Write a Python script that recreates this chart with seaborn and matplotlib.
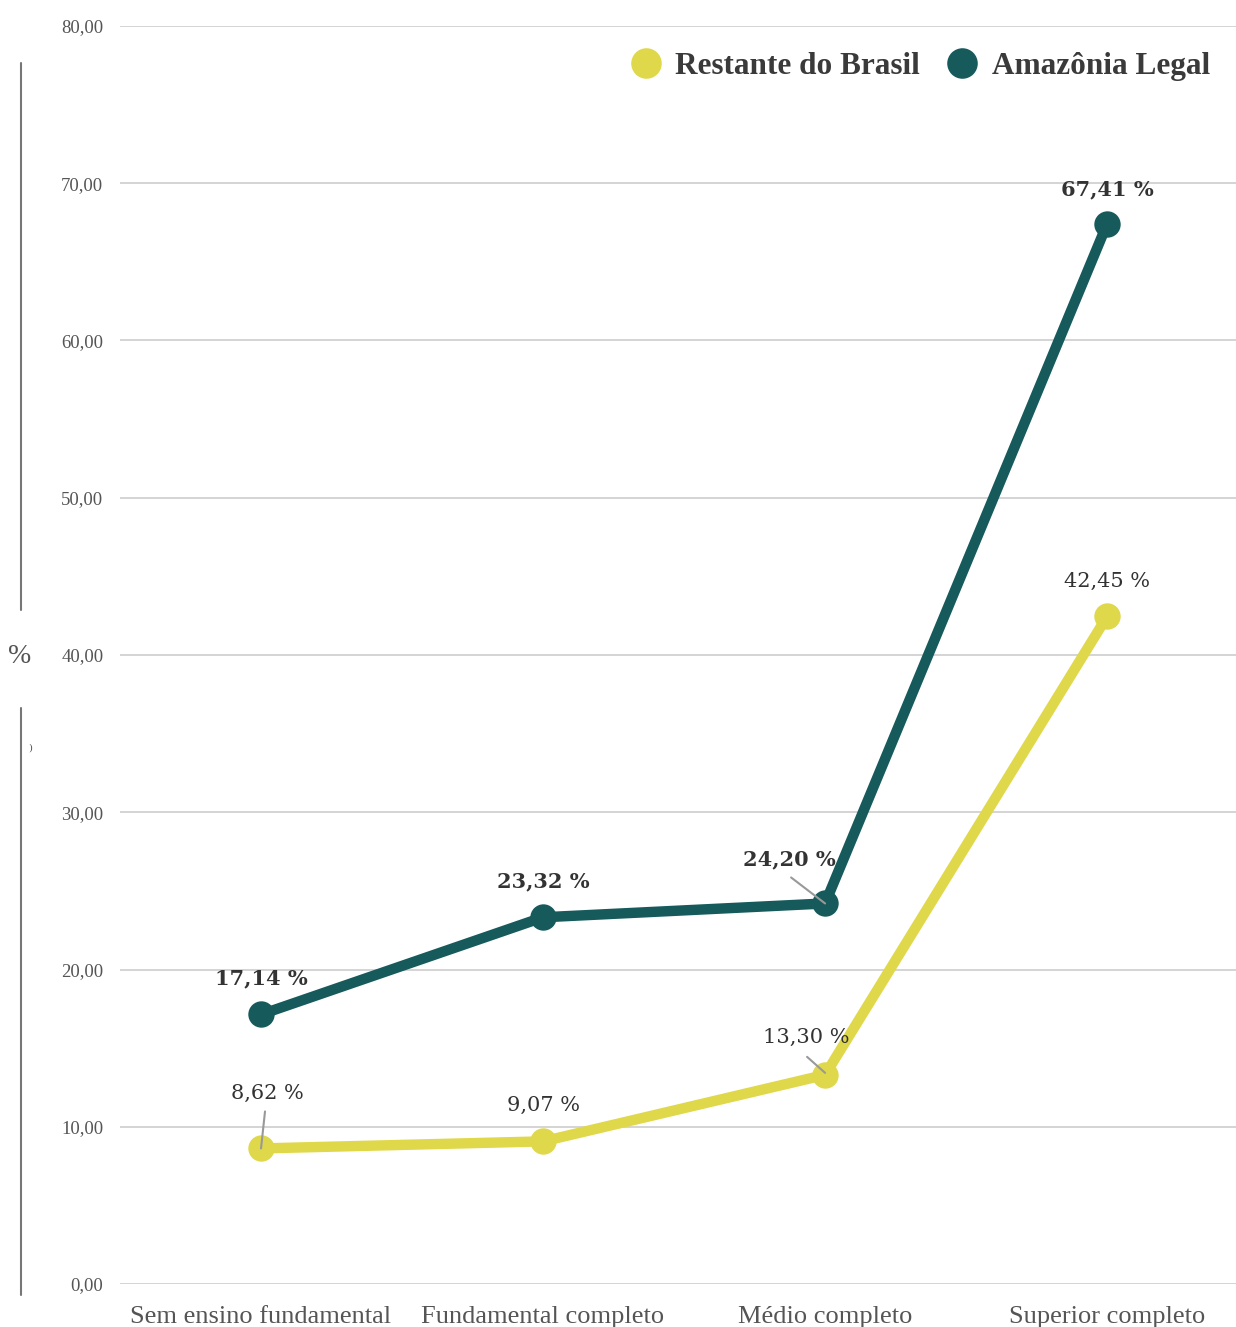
import matplotlib
matplotlib.use("Agg")
import matplotlib.pyplot as plt
import seaborn as sns
import pandas as pd
from matplotlib.lines import Line2D

categories = ["Sem ensino fundamental", "Fundamental completo", "Médio completo", "Superior completo"]
restante = [8.62, 9.07, 13.30, 42.45]
amazonia = [17.14, 23.32, 24.20, 67.41]
series_names = ["Restante do Brasil", "Amazônia Legal"]
yticks = [0, 10, 20, 30, 40, 50, 60, 70, 80]

colors = {"Restante do Brasil": "#e0d84b", "Amazônia Legal": "#165a5c"}

df = pd.DataFrame({
    "cat": list(range(len(categories))) * 2,
    "val": restante + amazonia,
    "serie": [series_names[0]] * 4 + [series_names[1]] * 4,
})

sns.set_style("white")
plt.rcParams["font.family"] = ["DejaVu Serif", "DejaVu Sans"]

W, H = 1236, 1327
fig = plt.figure(figsize=(W / 100, H / 100), dpi=100)
ax = fig.add_axes([120 / W, (H - 1284) / H, (W - 120) / W, 1258 / H])

sns.lineplot(data=df, x="cat", y="val", hue="serie", palette=colors,
             hue_order=series_names, marker="o", markersize=19,
             markeredgewidth=0, linewidth=7.5, legend=False, ax=ax, zorder=3)

ax.set_xlim(-0.5, 3.457)
ax.set_ylim(0, 80)
ax.set_yticks(yticks)
ax.set_yticklabels([f"{v:.2f}".replace(".", ",") for v in yticks],
                   fontsize=13.5, color="#555555", family="Liberation Serif")
ax.set_xticks(range(len(categories)))
ax.set_xticklabels(categories, fontsize=19, color="#555555", family="Liberation Serif")
ax.tick_params(axis="y", length=0, pad=12)
ax.tick_params(axis="x", length=0, pad=16)
ax.grid(axis="y", color="#d4d4d4", linewidth=1.4, zorder=0)
ax.grid(axis="x", visible=False)
for s in ax.spines.values():
    s.set_visible(False)
ax.set_xlabel("")
ax.set_ylabel("")

def lab(x, y, text, dx_px, dy_px, bold):
    ax.annotate(text, xy=(x, y), xytext=(dx_px * 0.72, dy_px * 0.72), textcoords="offset points",
                ha="center", va="center", fontsize=15,
                fontweight="bold" if bold else "normal", color="#333333", zorder=5)

a_off = [(0, 36), (0, 36), (-36, 44), (0, 35)]
r_off = [(6, 55), (0, 36), (-19, 37), (0, 35)]
for i, v in enumerate(amazonia):
    dx, dy = a_off[i]
    lab(i, v, f"{v:.2f} %".replace(".", ","), dx, dy, True)
for i, v in enumerate(restante):
    dx, dy = r_off[i]
    lab(i, v, f"{v:.2f} %".replace(".", ","), dx, dy, False)

def leader(x, y, p1, p2):
    x0, y0 = ax.transData.transform((x, y))
    inv = fig.transFigure.inverted()
    a = inv.transform((x0 + p1[0], y0 + p1[1]))
    b = inv.transform((x0 + p2[0], y0 + p2[1]))
    fig.add_artist(Line2D([a[0], b[0]], [a[1], b[1]], color="#999999", lw=1.5, zorder=6))

fig.canvas.draw()
leader(2, amazonia[2], (-34, 26), (0, 0))
leader(2, restante[2], (-18, 18), (0, 2))
leader(0, restante[0], (4, 37), (0, 0))

handles = [Line2D([], [], linestyle="none", marker="o", markersize=22,
                  markerfacecolor=colors[n], markeredgewidth=0) for n in series_names]
leg = ax.legend(handles, series_names, loc="upper right", bbox_to_anchor=(1.002, 1.002),
                ncol=2, frameon=False, handletextpad=0.35, columnspacing=0.75,
                handlelength=1.2, prop={"size": 22.5, "family": "Liberation Serif", "weight": "bold"})
for t in leg.get_texts():
    t.set_color("#3a3a3a")

fig.text(20 / W, 1 - 657 / H, "%", fontsize=20, color="#555555", ha="center", va="center",
         family="Liberation Serif")
fig.text(30 / W, 1 - 748 / H, ")", fontsize=7, color="#555555", ha="center", va="center")
fig.add_artist(Line2D([21 / W, 21 / W], [1 - 63 / H, 1 - 610 / H], color="#777777", lw=1.5))
fig.add_artist(Line2D([21 / W, 21 / W], [1 - 708 / H, 1 - 1295 / H], color="#777777", lw=1.5))

fig.savefig("out.png", dpi=100)
